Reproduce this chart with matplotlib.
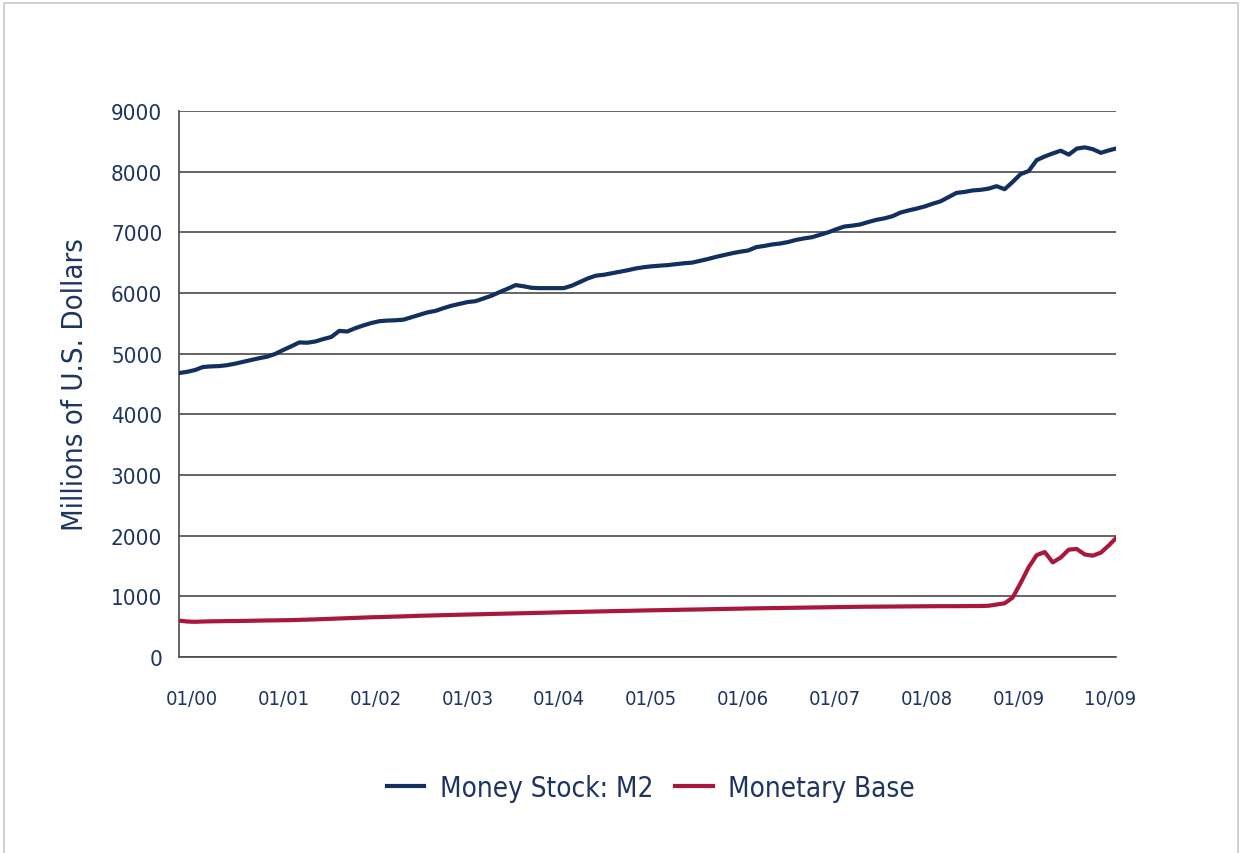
import numpy as np
import matplotlib
matplotlib.use("Agg")
import matplotlib.pyplot as plt
from matplotlib.patches import Rectangle

plt.rcParams['font.family'] = ['DejaVu Sans']
plt.rcParams['font.stretch'] = 'condensed'

# monthly values, Jan 2000 .. Oct 2009
m2 = [
    4680, 4700, 4730, 4780, 4790, 4795, 4810, 4835, 4865, 4895, 4925, 4950,
    4995, 5060, 5120, 5185, 5180, 5200, 5240, 5275, 5375, 5365, 5420, 5465,
    5505, 5535, 5545, 5550, 5560, 5600, 5640, 5680, 5705, 5750, 5790, 5820,
    5850, 5865, 5910, 5955, 6015, 6070, 6130, 6110, 6085, 6080, 6080, 6080,
    6080, 6120, 6180, 6240, 6285, 6300, 6325, 6350, 6375, 6405, 6425, 6440,
    6450, 6460, 6475, 6490, 6500, 6530, 6560, 6595, 6625, 6655, 6680, 6700,
    6755, 6775, 6800, 6815, 6840, 6875, 6900, 6920, 6960, 7000, 7050, 7095,
    7110, 7130, 7170, 7205, 7230, 7265, 7325, 7360, 7390, 7425, 7470, 7510,
    7580, 7650, 7665, 7690, 7700, 7720, 7760, 7710, 7830, 7960, 8010, 8190,
    8250, 8300, 8345, 8280, 8380, 8400, 8370, 8310, 8350, 8385,
]
base = [
    600, 585, 580, 585, 588, 590, 592, 593, 595, 597, 600, 602,
    604, 606, 608, 612, 616, 620, 625, 630, 635, 640, 645, 650,
    655, 658, 662, 666, 670, 675, 680, 683, 686, 690, 693, 697,
    700, 703, 706, 710, 713, 716, 719, 722, 725, 728, 731, 735,
    738, 741, 744, 747, 750, 753, 756, 759, 761, 764, 767, 770,
    772, 775, 777, 780, 782, 784, 787, 790, 792, 795, 797, 800,
    802, 804, 806, 808, 810, 812, 814, 816, 818, 820, 822, 824,
    826, 828, 829, 830, 831, 832, 833, 834, 835, 836, 837, 838,
    838, 838, 839, 840, 840, 845, 865, 885, 980, 1220, 1480, 1680,
    1730, 1560, 1640, 1770, 1780, 1690, 1670, 1720, 1840, 1975,
]
x_labels = ['01/00', '01/01', '01/02', '01/03', '01/04', '01/05',
            '01/06', '01/07', '01/08', '01/09', '10/09']
y_ticks = list(range(0, 10000, 1000))

NAVY = '#12305f'
RED = '#a8183c'
TXT = '#1d3560'
GRID = '#4a4a4a'

fig = plt.figure(figsize=(12.42, 8.54), dpi=100)
# thin light frame round the whole picture
fig.patches.append(Rectangle((0.003, -0.01), 0.994, 1.005, transform=fig.transFigure,
                             fill=False, edgecolor='#c8c8c8', linewidth=1.2))
ax = fig.add_axes([0.1441, 0.2295, 0.7545, 0.6394])

months = np.arange(len(m2))
ax.plot(months, m2, color=NAVY, linewidth=3.0, label='Money Stock: M2', zorder=3)
ax.plot(months, base, color=RED, linewidth=3.0, label='Monetary Base', zorder=3)

ax.set_xlim(0, len(m2) - 1.1)
ax.set_ylim(0, 9000)
ax.set_yticks(y_ticks)
ax.yaxis.grid(True, color=GRID, linewidth=1.2)
ax.set_axisbelow(True)

# labels are spread evenly under the axis, as in the source
ax.set_xticks(np.linspace(1.6, 116.2, len(x_labels)))
ax.set_xticklabels(x_labels)

for s in ['top', 'right']:
    ax.spines[s].set_visible(False)
for s in ['left', 'bottom']:
    ax.spines[s].set_color(GRID)
    ax.spines[s].set_linewidth(1.2)

ax.tick_params(axis='y', length=0, pad=12, labelsize=16, labelcolor=TXT)
ax.tick_params(axis='x', length=0, pad=23, labelsize=14.5, labelcolor=TXT)

ax.set_ylabel('Millions of U.S. Dollars', fontsize=21, color=TXT, labelpad=16)

fig.legend(loc='center', bbox_to_anchor=(0.524, 0.076), ncol=2, frameon=False,
           fontsize=20, labelcolor=TXT, handlelength=1.35, handletextpad=0.55,
           columnspacing=0.8)

fig.savefig('out.png', dpi=100, facecolor='white')
